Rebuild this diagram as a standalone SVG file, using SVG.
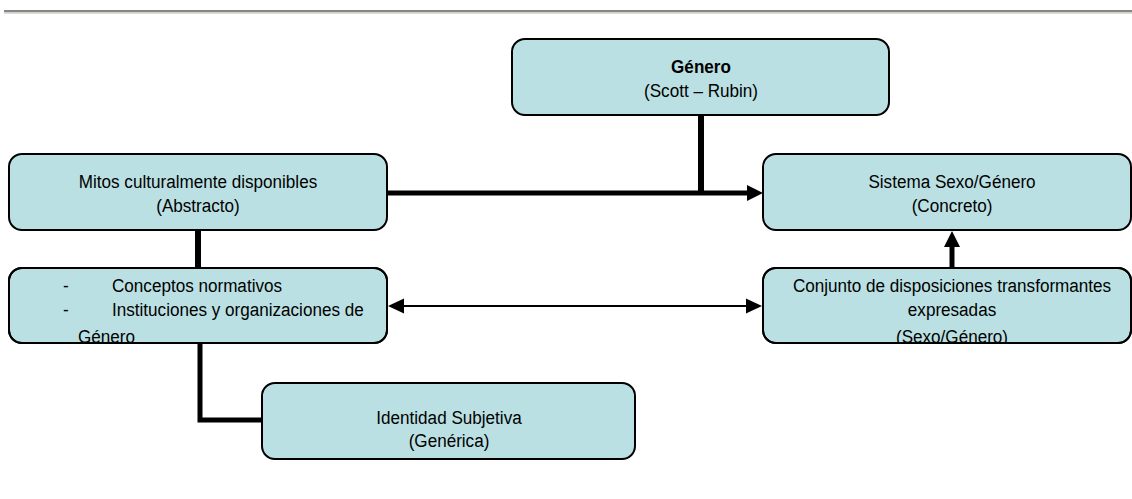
<svg xmlns="http://www.w3.org/2000/svg" width="1132" height="499" viewBox="0 0 1132 499">
<style>
.box{fill:#BBE0E3;stroke:#000;stroke-width:2}
.t{font-family:"Liberation Sans",Arial,sans-serif;font-size:19px;fill:#000}
.c{text-anchor:middle}
.b{font-weight:bold}
.thick{stroke:#000;fill:none;stroke-width:5}
.thin{stroke:#000;fill:none;stroke-width:2}
.ah{fill:#000}
</style>
<defs>
<clipPath id="clipConceptos"><rect x="9" y="268" width="378" height="74"/></clipPath>
<clipPath id="clipConjunto"><rect x="763" y="268" width="369" height="74"/></clipPath>
</defs>
<rect x="0" y="0" width="1132" height="499" fill="#fff"/>
<rect x="4" y="10" width="1128" height="2.4" fill="#868686"/>
<rect x="4" y="12.4" width="1128" height="1.4" fill="#d4d4cc"/>

<g id="connectors">
<line class="thick" x1="701" y1="116" x2="701" y2="193" style="stroke-width:6"/>
<line class="thick" x1="388" y1="193" x2="750" y2="193"/>
<polygon class="ah" points="763,193 747,185 747,201"/>
<line class="thick" x1="198" y1="230" x2="198" y2="268" style="stroke-width:6"/>
<line class="thick" x1="952" y1="268" x2="952" y2="244"/>
<polygon class="ah" points="952,231 944,247 960,247"/>
<line class="thin" x1="400" y1="306" x2="750" y2="306"/>
<polygon class="ah" points="388,306 404,298.5 404,313.5"/>
<polygon class="ah" points="762,306 746,298.5 746,313.5"/>
<path class="thick" d="M200 343 V420 H262"/>
</g>

<g id="genero">
<rect class="box" x="512" y="39" width="377" height="76" rx="13"/>
<text class="t c b" transform="translate(701 0) scale(0.9 1)" x="0" y="73">Género</text>
<text class="t c" transform="translate(701 0) scale(0.9 1)" x="0" y="97">(Scott – Rubin)</text>
</g>

<g id="mitos">
<rect class="box" x="9" y="154" width="378" height="76" rx="13"/>
<text class="t c" transform="translate(198 0) scale(0.9 1)" x="0" y="188">Mitos culturalmente disponibles</text>
<text class="t c" transform="translate(198 0) scale(0.9 1)" x="0" y="212">(Abstracto)</text>
</g>

<g id="sistema">
<rect class="box" x="763" y="154" width="368" height="76" rx="13"/>
<text class="t c" transform="translate(952 0) scale(0.9 1)" x="0" y="188">Sistema Sexo/Género</text>
<text class="t c" transform="translate(952 0) scale(0.9 1)" x="0" y="212">(Concreto)</text>
</g>

<g id="conceptos">
<rect class="box" x="9" y="268" width="378" height="75" rx="13"/>
<g clip-path="url(#clipConceptos)">
<text class="t" transform="translate(63 0) scale(0.9 1)" x="0" y="292">-</text>
<text class="t" transform="translate(112 0) scale(0.9 1)" x="0" y="292">Conceptos normativos</text>
<text class="t" transform="translate(63 0) scale(0.9 1)" x="0" y="316.5">-</text>
<text class="t" transform="translate(112 0) scale(0.9 1)" x="0" y="316.5">Instituciones y organizaciones de</text>
<text class="t" transform="translate(78 0) scale(0.9 1)" x="0" y="343">Género</text>
</g>
<rect x="9" y="268" width="378" height="75" rx="13" fill="none" stroke="#000" stroke-width="2"/>
</g>

<g id="conjunto">
<rect class="box" x="763" y="268" width="368" height="75" rx="13"/>
<g clip-path="url(#clipConjunto)">
<text class="t c" transform="translate(952 0) scale(0.9 1)" x="0" y="292">Conjunto de disposiciones transformantes</text>
<text class="t c" transform="translate(952 0) scale(0.9 1)" x="0" y="316.5">expresadas</text>
<text class="t c" transform="translate(952 0) scale(0.9 1)" x="0" y="343">(Sexo/Género)</text>
</g>
<rect x="763" y="268" width="368" height="75" rx="13" fill="none" stroke="#000" stroke-width="2"/>
</g>

<g id="identidad">
<rect class="box" x="262" y="383" width="373" height="76" rx="13"/>
<text class="t c" transform="translate(449 0) scale(0.9 1)" x="0" y="424">Identidad Subjetiva</text>
<text class="t c" transform="translate(449 0) scale(0.9 1)" x="0" y="447">(Genérica)</text>
</g>
</svg>
